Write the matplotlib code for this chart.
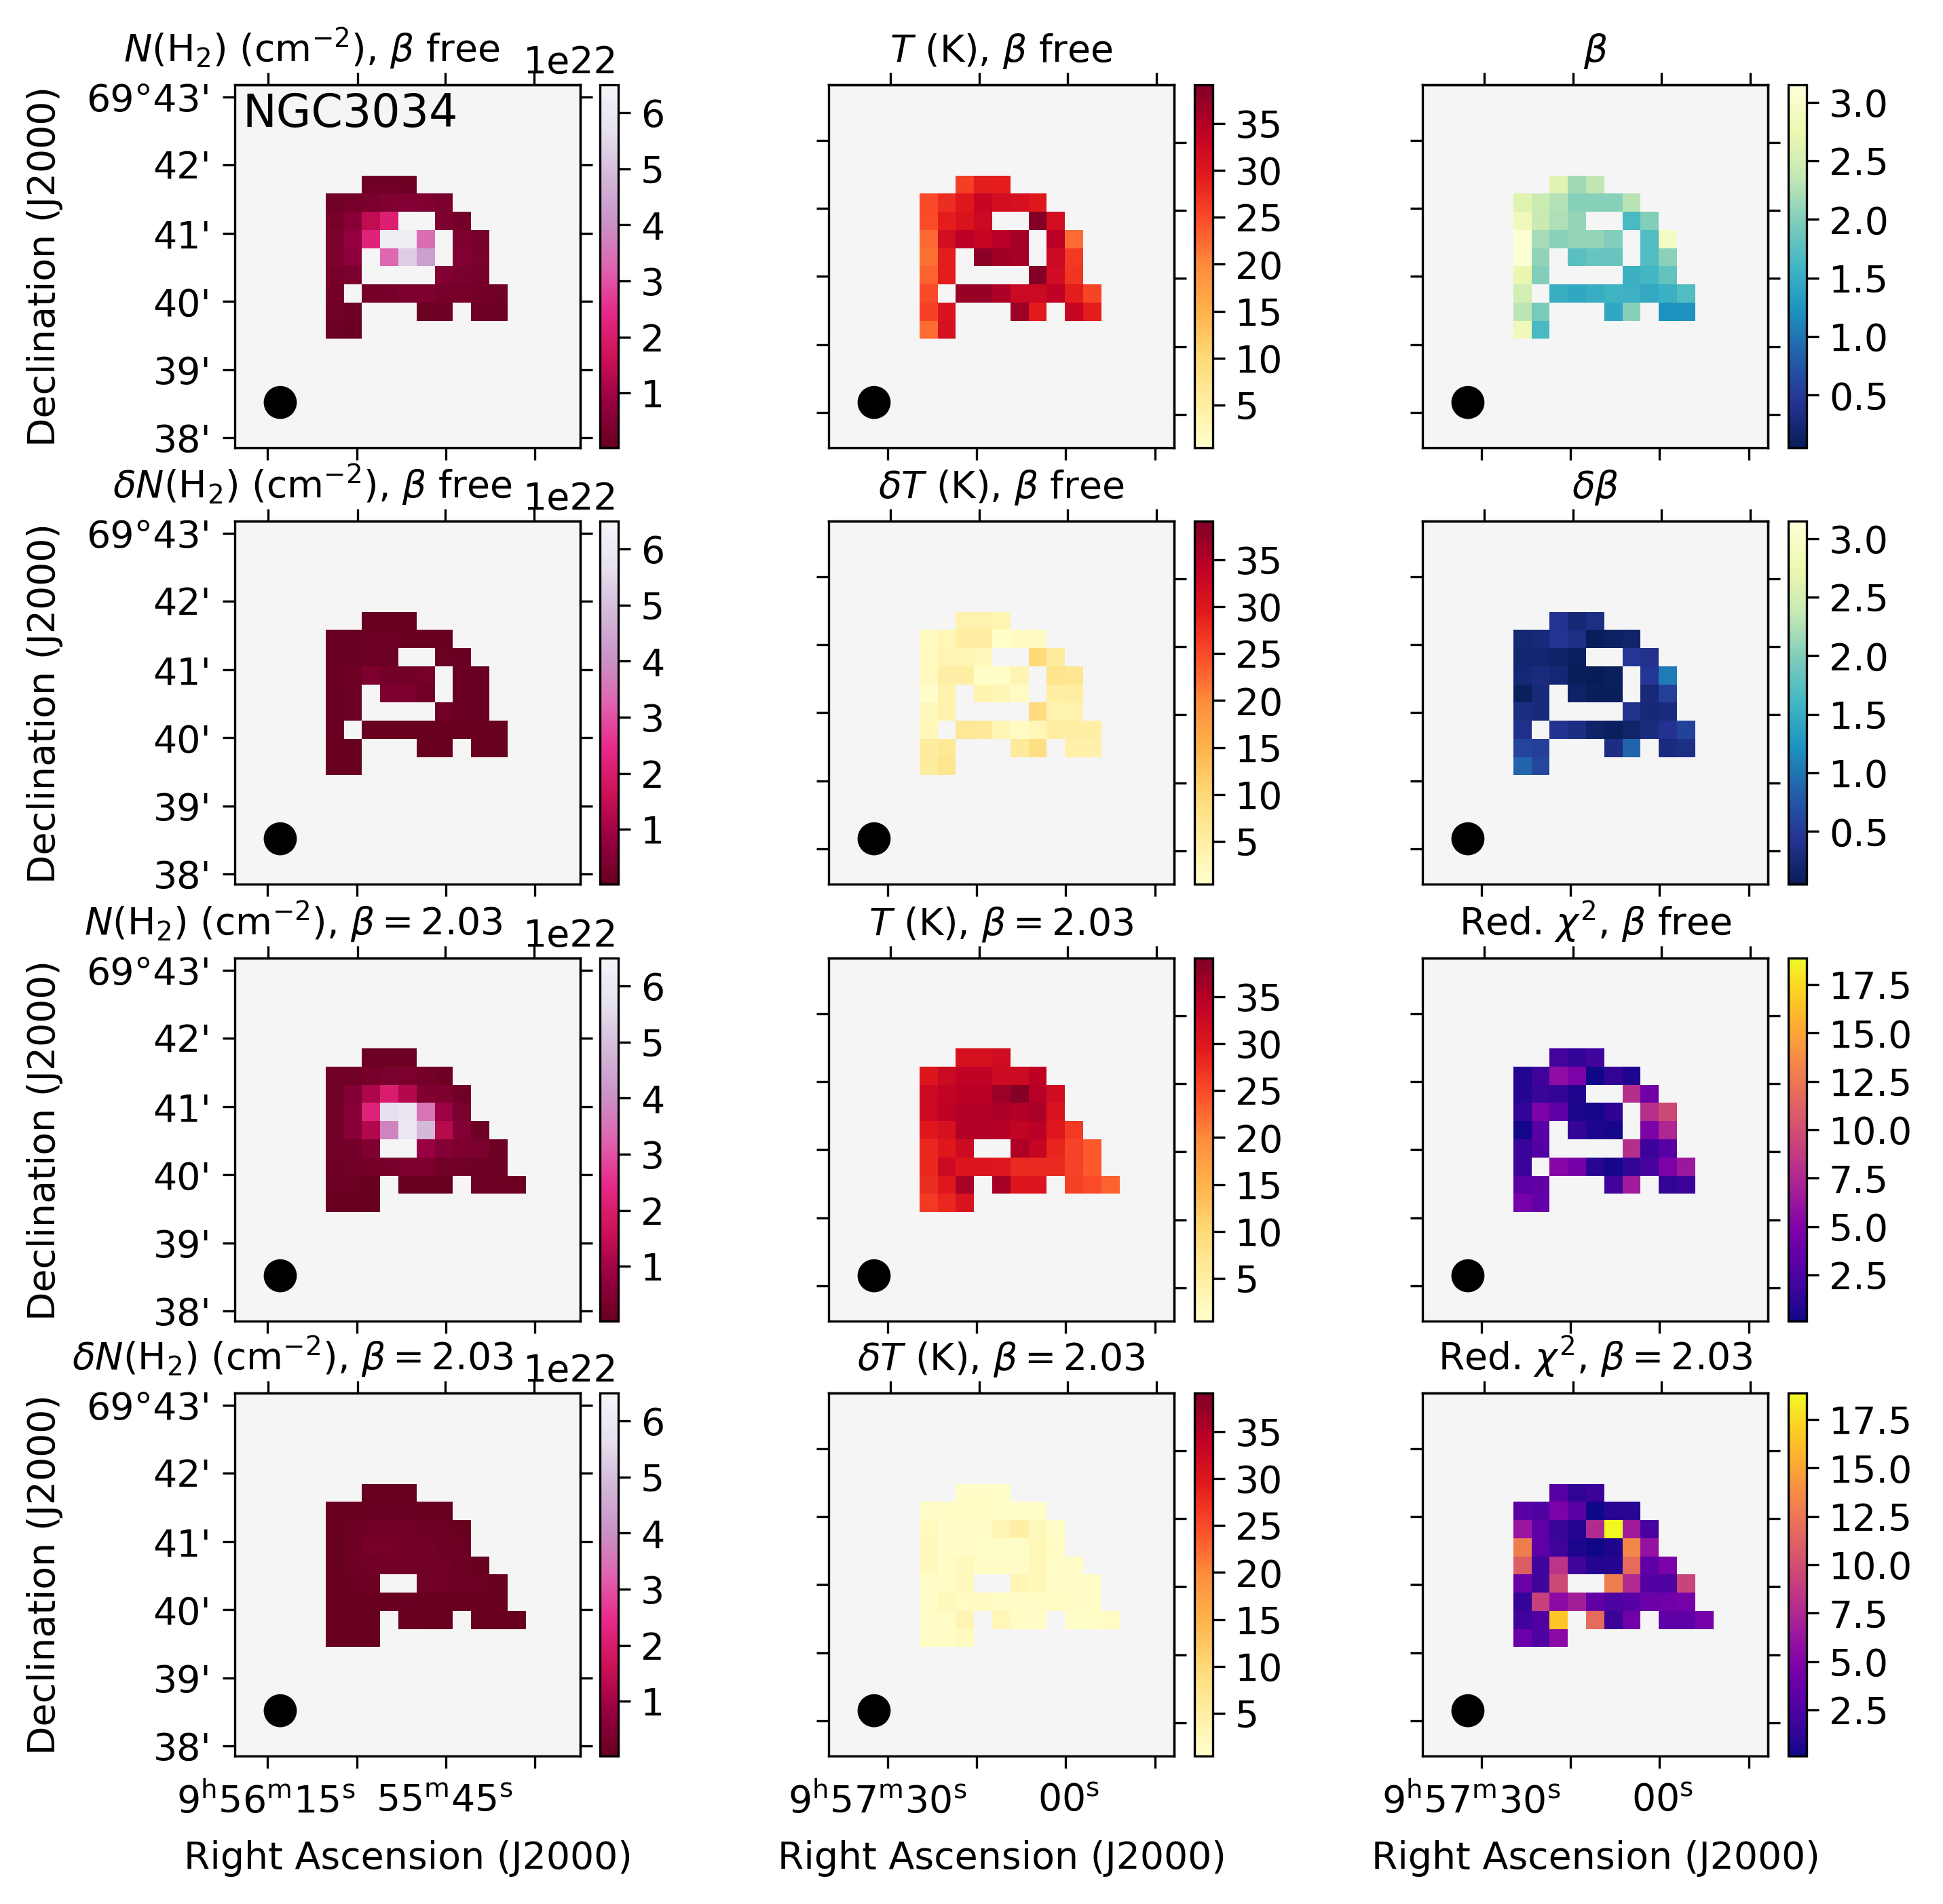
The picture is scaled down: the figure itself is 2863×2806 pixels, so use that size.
import numpy as np
import matplotlib
matplotlib.use("Agg")
import matplotlib.pyplot as plt
from matplotlib.patches import Circle
from matplotlib.ticker import ScalarFormatter
from matplotlib.transforms import ScaledTranslation

_ = np.nan

# Each table: 9 rows (top to bottom), 11 columns of the map region
N_free = [
 [_,_,0.20,0.22,0.15,_,_,_,_,_,_],
 [0.22,0.30,0.35,0.45,0.50,0.45,0.35,_,_,_,_],
 [0.30,0.60,1.45,2.10,_,_,0.40,0.25,_,_,_],
 [0.40,0.75,2.20,6.20,6.20,3.40,_,0.40,0.30,_,_],
 [0.40,0.70,_,3.30,5.30,4.30,_,0.50,0.35,_,_],
 [0.30,0.35,_,_,_,_,0.50,0.35,0.30,_,_],
 [0.25,_,0.25,0.28,0.40,0.42,0.30,0.28,0.25,0.22,_],
 [0.20,0.12,_,_,_,0.12,0.15,_,0.15,0.12,_],
 [0.10,0.08,_,_,_,_,_,_,_,_,_],
]
dN_free = [
 [_,_,0.05,0.05,0.05,_,_,_,_,_,_],
 [0.08,0.08,0.10,0.10,0.06,0.06,0.07,_,_,_,_],
 [0.08,0.08,0.12,0.12,_,_,0.10,0.08,_,_,_],
 [0.08,0.14,0.40,0.25,0.22,0.32,_,0.08,0.08,_,_],
 [0.08,0.12,_,0.40,0.40,0.20,_,0.08,0.08,_,_],
 [0.08,0.12,_,_,_,_,0.20,0.08,0.08,_,_],
 [0.08,_,0.06,0.06,0.06,0.05,0.05,0.05,0.05,0.05,_],
 [0.06,0.06,_,_,_,0.05,0.05,_,0.05,0.05,_],
 [0.05,0.05,_,_,_,_,_,_,_,_,_],
]
T_free = [
 [_,_,26.0,29.2,29.0,_,_,_,_,_,_],
 [25.0,27.5,29.8,33.0,31.5,31.0,29.8,_,_,_,_],
 [24.8,29.0,30.5,32.5,_,_,38.5,31.5,_,_,_],
 [22.5,31.5,34.2,33.2,34.5,36.0,_,34.2,22.3,_,_],
 [22.0,29.2,_,38.0,36.5,36.0,_,32.5,26.5,_,_],
 [23.0,29.2,_,_,_,_,38.5,32.0,26.8,_,_],
 [25.0,_,37.0,37.2,35.5,32.5,32.5,33.8,29.2,25.5,_],
 [25.8,30.4,_,_,_,36.7,29.4,_,33.0,29.2,_],
 [22.3,31.0,_,_,_,_,_,_,_,_,_],
]
dT_free = [
 [_,_,3.9,3.9,3.4,_,_,_,_,_,_],
 [1.7,2.8,5.0,5.0,0.7,1.8,1.8,_,_,_,_],
 [1.9,3.2,3.0,2.2,_,_,9.8,5.5,_,_,_],
 [1.9,4.6,4.8,1.0,1.0,3.3,_,7.5,6.7,_,_],
 [0.8,3.9,_,3.5,2.9,1.4,_,4.8,5.0,_,_],
 [2.3,3.8,_,_,_,_,9.3,4.0,4.0,_,_],
 [2.7,_,6.5,6.0,2.9,1.5,2.8,4.8,4.8,4.8,_],
 [5.3,6.2,_,_,_,6.0,8.5,_,4.1,4.1,_],
 [5.3,7.2,_,_,_,_,_,_,_,_,_],
]
beta_free = [
 [_,_,2.63,2.18,2.35,_,_,_,_,_,_],
 [2.63,2.43,2.27,2.03,2.03,2.03,2.30,_,_,_,_],
 [2.85,2.40,2.25,2.10,_,_,1.65,2.00,_,_,_],
 [3.10,2.20,2.05,2.10,2.10,2.00,_,1.70,2.95,_,_],
 [3.10,2.08,_,1.75,1.85,1.85,_,1.70,2.05,_,_],
 [2.74,2.00,_,_,_,_,1.55,1.62,1.82,_,_],
 [2.50,_,1.52,1.45,1.52,1.58,1.56,1.47,1.55,1.70,_],
 [2.32,1.95,_,_,_,1.45,2.03,_,1.23,1.25,_],
 [2.85,1.65,_,_,_,_,_,_,_,_,_],
]
dbeta_free = [
 [_,_,0.43,0.25,0.35,_,_,_,_,_,_],
 [0.22,0.27,0.43,0.35,0.07,0.13,0.18,_,_,_,_],
 [0.20,0.20,0.16,0.10,_,_,0.47,0.40,_,_,_],
 [0.24,0.30,0.24,0.08,0.06,0.11,_,0.47,1.05,_,_],
 [0.09,0.27,_,0.15,0.08,0.08,_,0.28,0.55,_,_],
 [0.33,0.29,_,_,_,_,0.40,0.25,0.30,_,_],
 [0.38,_,0.42,0.33,0.16,0.09,0.18,0.30,0.42,0.58,_],
 [0.60,0.55,_,_,_,0.34,0.88,_,0.30,0.35,_],
 [0.88,0.62,_,_,_,_,_,_,_,_,_],
]
N_fixed = [
 [_,_,0.10,0.10,0.10,_,_,_,_,_,_],
 [0.20,0.22,0.28,0.35,0.38,0.25,0.15,_,_,_,_],
 [0.20,0.50,1.20,2.00,1.25,0.45,0.40,0.20,_,_,_],
 [0.20,0.60,2.20,5.70,5.85,3.50,0.90,0.35,_,_,_],
 [0.20,0.60,1.25,3.80,5.95,4.90,1.30,0.50,0.15,_,_],
 [0.20,0.25,0.45,_,_,0.85,0.55,0.40,0.35,0.15,_],
 [0.17,0.20,0.27,0.30,0.38,0.38,0.20,0.20,0.17,0.17,_],
 [0.10,0.10,0.07,_,0.07,0.07,0.07,_,0.10,0.10,0.10],
 [0.07,0.07,0.04,_,_,_,_,_,_,_,_],
]
dN_fixed = [
 [_,_,0.04,0.04,0.04,_,_,_,_,_,_],
 [0.06,0.06,0.08,0.08,0.08,0.06,0.05,_,_,_,_],
 [0.06,0.10,0.20,0.24,0.20,0.14,0.12,0.06,_,_,_],
 [0.06,0.14,0.28,0.30,0.24,0.24,0.16,0.10,_,_,_],
 [0.06,0.14,0.20,0.26,0.20,0.20,0.22,0.12,0.05,_,_],
 [0.06,0.08,0.14,_,_,0.22,0.20,0.14,0.12,0.05,_],
 [0.06,0.06,0.08,0.07,0.08,0.06,0.06,0.05,0.05,0.05,_],
 [0.04,0.04,0.05,_,0.05,0.04,0.04,_,0.04,0.04,0.04],
 [0.04,0.04,0.03,_,_,_,_,_,_,_,_],
]
T_fixed = [
 [_,_,31.0,31.0,32.0,_,_,_,_,_,_],
 [30.2,32.5,33.8,33.8,32.2,32.3,34.0,_,_,_,_],
 [32.6,33.6,34.4,34.4,36.8,38.6,34.6,32.0,_,_,_],
 [32.4,33.7,35.0,35.0,35.4,35.0,35.8,30.6,_,_,_],
 [29.8,31.0,35.0,35.0,34.8,33.6,34.5,29.8,26.5,_,_],
 [28.2,29.8,32.2,_,_,35.2,33.2,28.4,25.6,23.6,_],
 [28.2,32.4,30.2,30.2,30.0,28.0,28.0,28.0,25.6,23.6,_],
 [27.6,29.8,35.8,_,36.0,30.2,30.2,_,25.8,24.8,23.0],
 [26.5,28.2,30.6,_,_,_,_,_,_,_,_],
]
dT_fixed = [
 [_,_,1.3,1.3,1.0,_,_,_,_,_,_],
 [1.2,1.2,1.6,1.6,0.9,0.9,0.9,_,_,_,_],
 [2.0,1.3,1.1,1.1,3.0,4.8,2.3,1.2,_,_,_],
 [2.2,1.2,1.1,1.0,1.0,1.0,2.6,1.6,_,_,_],
 [2.2,1.1,2.2,1.3,1.3,1.1,2.6,1.2,1.2,_,_],
 [1.2,1.1,2.2,_,_,3.0,2.3,1.3,1.3,1.2,_],
 [1.2,2.4,1.6,1.8,1.3,1.1,1.3,1.4,1.3,1.2,_],
 [1.2,1.1,3.2,_,2.8,1.1,1.2,_,1.0,1.0,1.6],
 [1.1,1.1,1.7,_,_,_,_,_,_,_,_],
]
chi_free = [
 [_,_,2.2,1.5,2.0,_,_,_,_,_,_],
 [0.8,1.9,5.75,4.8,0.2,1.3,0.7,_,_,_,_],
 [0.9,1.6,1.4,0.7,_,_,7.9,4.1,_,_,_],
 [1.4,4.8,3.3,0.5,0.35,1.2,_,8.0,9.7,_,_],
 [0.3,3.0,_,1.5,0.7,0.4,_,4.8,7.4,_,_],
 [1.6,2.9,_,_,_,_,7.9,1.8,3.0,_,_],
 [1.6,_,5.3,4.4,1.0,0.4,1.3,2.3,4.8,6.4,_],
 [3.2,3.5,_,_,_,2.0,6.7,_,1.3,1.8,_],
 [4.5,3.6,_,_,_,_,_,_,_,_,_],
]
chi_fixed = [
 [_,_,3.0,1.3,1.8,_,_,_,_,_,_],
 [3.1,2.6,4.7,3.1,0.2,1.0,1.0,_,_,_,_],
 [6.2,3.4,1.6,0.9,7.6,18.8,6.7,2.3,_,_,_],
 [13.0,3.4,1.9,0.6,0.25,0.65,13.4,6.0,_,_,_],
 [11.1,2.0,8.3,2.0,0.8,0.8,11.8,3.4,4.7,_,_],
 [3.9,2.0,9.6,_,_,13.0,7.6,2.9,2.6,9.4,_],
 [1.4,9.2,5.5,6.8,3.5,2.6,3.0,3.9,4.2,4.5,_],
 [2.0,2.7,16.6,_,11.8,1.8,4.2,_,3.4,3.4,4.5],
 [3.9,2.6,5.5,_,_,_,_,_,_,_,_],
]

TITLES = [
 [r'$N$(H$_2$) (cm$^{-2}$), $\beta$ free', r'$T$ (K), $\beta$ free', r'$\beta$'],
 [r'$\delta N$(H$_2$) (cm$^{-2}$), $\beta$ free', r'$\delta T$ (K), $\beta$ free', r'$\delta\beta$'],
 [r'$N$(H$_2$) (cm$^{-2}$), $\beta=2.03$', r'$T$ (K), $\beta=2.03$', r'Red. $\chi^2$, $\beta$ free'],
 [r'$\delta N$(H$_2$) (cm$^{-2}$), $\beta=2.03$', r'$\delta T$ (K), $\beta=2.03$', r'Red. $\chi^2$, $\beta=2.03$'],
]
TABLES = [
 [N_free, T_free, beta_free],
 [dN_free, dT_free, dbeta_free],
 [N_fixed, T_fixed, chi_free],
 [dN_fixed, dT_fixed, chi_fixed],
]
SCALE = [[1e22, 1, 1]] * 4
KIND = [['N', 'T', 'b'], ['N', 'T', 'b'], ['N', 'T', 'c'], ['N', 'T', 'c']]
CMAPS = {'N': 'PuRd_r', 'T': 'YlOrRd', 'b': 'YlGnBu_r', 'c': 'plasma'}
LIMS = {'N': (0.02e22, 6.5e22), 'T': (0.45, 39.1), 'b': (0.05, 3.15), 'c': (0.12, 18.87)}
CBTICKS = {'N': [1e22, 2e22, 3e22, 4e22, 5e22, 6e22],
           'T': [5, 10, 15, 20, 25, 30, 35],
           'b': [0.5, 1.0, 1.5, 2.0, 2.5, 3.0],
           'c': [2.5, 5, 7.5, 10, 12.5, 15, 17.5]}

NX, NY = 19, 20
FIRST_COL, FIRST_ROW = 5, 5
BEAM_X, BEAM_Y, BEAM_R = 2.0, 17.0, 0.91

# pixel layout of the figure
W, H = 2863, 2806
DPI = 300
COL_L = [346, 1221, 2096]
AX_W = 509
ROW_T = [125, 768, 1412, 2053]
AX_H = 535
CB_L = [884, 1760, 2635]
CB_W = 27

# tick positions in map cells, per column family
DEC_L = {0: [0.17, 3.91, 7.69, 11.44, 15.20, 18.94], 1: [2.57, 6.31, 10.05, 13.82, 17.56]}
DEC_R = {0: [0.17, 3.91, 7.69, 11.44, 15.20, 18.94], 1: [2.66, 6.42, 10.16, 13.94, 17.68]}
RA_T = {0: [1.32, 6.25, 11.09, 15.97], 1: [2.88, 7.77, 12.65, 17.53]}
RA_B = {0: [1.31, 6.23, 11.11, 15.99], 1: [2.73, 7.65, 12.53, 17.46]}
DEC_LABELS = ["69°43'", "42'", "41'", "40'", "39'", "38'"]
RA_LABELS = {0: [r'$9^{\mathrm{h}}56^{\mathrm{m}}15^{\mathrm{s}}$', '', r'$55^{\mathrm{m}}45^{\mathrm{s}}$', ''],
             1: [r'$9^{\mathrm{h}}57^{\mathrm{m}}30^{\mathrm{s}}$', '', r'$00^{\mathrm{s}}$', '']}
RA_SHIFT_PX = {0: [-3, 0, -2, 0], 1: [-15, 0, 5, 0]}
TITLE_X_COL0 = [459, 460, 432, 431]

FS = 13.3
plt.rcParams.update({'font.family': 'DejaVu Sans', 'font.size': FS,
                     'axes.linewidth': 0.8, 'xtick.major.width': 0.8, 'ytick.major.width': 0.8,
                     'xtick.major.size': 4.4, 'ytick.major.size': 4.4})

fig = plt.figure(figsize=(W / DPI, H / DPI), dpi=DPI)


def box(l, t, w, h):
    return [l / W, 1 - (t + h) / H, w / W, h / H]


for r in range(4):
    for c in range(3):
        fam = 0 if c == 0 else 1
        ax = fig.add_axes(box(COL_L[c], ROW_T[r], AX_W, AX_H))
        ax.set_facecolor('whitesmoke')
        grid = np.full((NY, NX), np.nan)
        t = np.array(TABLES[r][c], float) * SCALE[r][c]
        grid[FIRST_ROW:FIRST_ROW + t.shape[0], FIRST_COL:FIRST_COL + t.shape[1]] = t
        kind = KIND[r][c]
        vmin, vmax = LIMS[kind]
        im = ax.imshow(grid, origin='upper', cmap=CMAPS[kind], vmin=vmin, vmax=vmax,
                       interpolation='nearest', aspect='auto')
        ax.set_xlim(-0.5, NX - 0.5)
        ax.set_ylim(NY - 0.5, -0.5)
        ax.add_patch(Circle((BEAM_X, BEAM_Y), BEAM_R, color='k', lw=0, zorder=5))

        ax.set_yticks(DEC_L[fam])
        if c == 0:
            ax.set_yticklabels(DEC_LABELS)
            ax.tick_params(axis='y', pad=4)
            fig.text(66 / W, 1 - (ROW_T[r] + 268) / H, 'Declination (J2000)', rotation=90,
                     ha='center', va='center', fontsize=FS)
        else:
            ax.set_yticklabels([])
        ax.set_xticks(RA_B[fam])
        if r == 3:
            ax.set_xticklabels(RA_LABELS[fam])
            ax.tick_params(axis='x', pad=5)
            for lab, dx in zip(ax.get_xticklabels(), RA_SHIFT_PX[fam]):
                lab.set_transform(lab.get_transform() + ScaledTranslation(dx / DPI, 0, fig.dpi_scale_trans))
            fig.text((COL_L[c] + 255) / W, 1 - 2739 / H, 'Right Ascension (J2000)',
                     ha='center', va='center', fontsize=FS)
        else:
            ax.set_xticklabels([])
        sy = ax.secondary_yaxis('right')
        sy.set_yticks(DEC_R[fam])
        sy.set_yticklabels([])
        sx = ax.secondary_xaxis('top')
        sx.set_xticks(RA_T[fam])
        sx.set_xticklabels([])

        tx = TITLE_X_COL0[r] if c == 0 else COL_L[c] + AX_W / 2
        fig.text(tx / W, 1 - (ROW_T[r] - 34) / H, TITLES[r][c], ha='center', va='baseline', fontsize=FS)

        cax = fig.add_axes(box(CB_L[c], ROW_T[r], CB_W, AX_H))
        cb = fig.colorbar(im, cax=cax)
        cb.set_ticks(CBTICKS[kind])
        if kind == 'c':
            cb.set_ticklabels(['2.5', '5.0', '7.5', '10.0', '12.5', '15.0', '17.5'])
        elif kind == 'b':
            cb.set_ticklabels(['0.5', '1.0', '1.5', '2.0', '2.5', '3.0'])
        cb.ax.tick_params(length=4.4, width=0.8, pad=3.5)
        if kind == 'N':
            fmt = ScalarFormatter(useMathText=False)
            cb.ax.yaxis.set_major_formatter(fmt)
            off = cb.ax.yaxis.get_offset_text()
            off.set_fontsize(FS)
            off.set_transform(off.get_transform() + ScaledTranslation(0, 5 / DPI, fig.dpi_scale_trans))

        if r == 0 and c == 0:
            ax.text(0.022, 0.92, 'NGC3034', transform=ax.transAxes, fontsize=16,
                    ha='left', va='center')

fig.savefig('out.png', dpi=DPI, facecolor='white')
